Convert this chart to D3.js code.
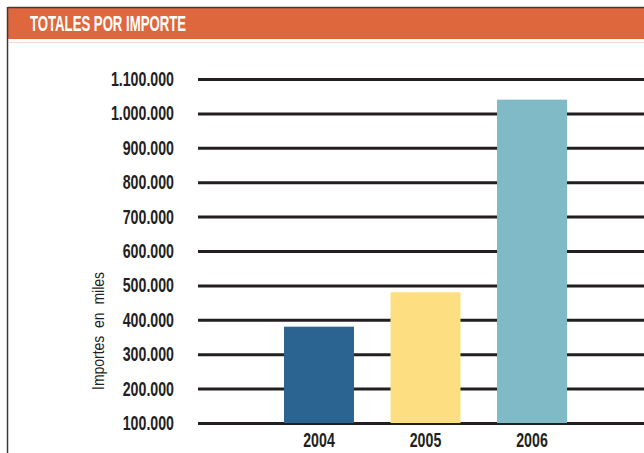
<!DOCTYPE html>
<html>
<head>
<meta charset="utf-8">
<script src="https://cdn.jsdelivr.net/npm/d3@7"></script>
<style>
  body { margin: 0; background: #fff; }
  text { font-family: "Liberation Sans", Arial, sans-serif; }
</style>
</head>
<body>
<div class="canvas"></div>
<script>
const dimensions = { width: 644, height: 453 };
const margin = { top: 79, left: 198, bottom: 30 };

// data
const years = ['2004', '2005', '2006'];
const importes = [380000, 480000, 1040000];
const barColors = ['#2b6490', '#fdde80', '#7fbac6'];
const yTicks = [100000, 200000, 300000, 400000, 500000, 600000, 700000, 800000, 900000, 1000000, 1100000];
const title = 'TOTALES POR IMPORTE';
const yTitle = 'Importes  en  miles';

const squeeze = 0.71; // fake a condensed face, no narrow font installed

const svg = d3.select('.canvas')
  .append('svg')
  .attr('width', dimensions.width)
  .attr('height', dimensions.height)

// header frame
svg.append('rect')
  .attr('x', 8).attr('y', 8)
  .attr('width', dimensions.width - 8).attr('height', 31)
  .attr('fill', '#df673d')

svg.append('line')
  .attr('x1', 8).attr('x2', dimensions.width)
  .attr('y1', 7.5).attr('y2', 7.5)
  .attr('stroke', '#3a3a3a').attr('stroke-width', 1.5)

svg.append('line')
  .attr('x1', 7.5).attr('x2', 7.5)
  .attr('y1', 7).attr('y2', dimensions.height)
  .attr('stroke', '#3a3a3a').attr('stroke-width', 1.5)

svg.append('line')
  .attr('x1', 9).attr('x2', dimensions.width)
  .attr('y1', 42.5).attr('y2', 42.5)
  .attr('stroke', '#f8d7cc').attr('stroke-width', 1.2)

svg.append('text')
  .attr('x', 30).attr('y', 31)
  .attr('fill', '#fff')
  .attr('font-size', 22)
  .attr('font-weight', 'bold')
  .attr('textLength', 156)
  .attr('lengthAdjust', 'spacingAndGlyphs')
  .text(title)

// scales
const y = d3.scaleLinear()
  .domain([100000, 1100000])
  .range([423, margin.top])

const x = d3.scaleBand()
  .domain(years)
  .range([230.75, 620.25])
  .paddingInner(0.343)
  .paddingOuter(0.5)

const fmt = d => d3.format(',')(d).replace(/,/g, '.')

// gridlines + tick labels through the axis generator
const pad = 24;
const yAxis = d3.axisLeft(y)
  .tickValues(yTicks)
  .tickSize(-(dimensions.width - margin.left))
  .tickPadding(pad)
  .tickFormat(fmt)

const gy = svg.append('g')
  .attr('transform', `translate(${margin.left}, 0)`)
  .call(yAxis)

gy.select('.domain').remove()
gy.selectAll('.tick line')
  .attr('x1', 0)
  .attr('x2', dimensions.width - margin.left)
  .attr('stroke', '#231f20')
  .attr('stroke-width', 3)
gy.selectAll('.tick text')
  .attr('fill', '#231f20')
  .attr('font-size', 20)
  .attr('font-weight', 'bold')
  .attr('font-family', '"Liberation Sans", Arial, sans-serif')
  .attr('transform', `translate(${-pad},0) scale(${squeeze},1) translate(${pad},0)`)

// bars
svg.append('g')
  .selectAll('rect')
  .data(years)
  .enter()
  .append('rect')
  .attr('x', d => x(d))
  .attr('width', x.bandwidth())
  .attr('y', (d, i) => y(importes[i]))
  .attr('height', (d, i) => y(100000) - y(importes[i]))
  .attr('fill', (d, i) => barColors[i])

// x labels
const xAxis = d3.axisBottom(x).tickSize(0).tickPadding(9.5)
const gx = svg.append('g')
  .attr('transform', `translate(0, 423)`)
  .call(xAxis)
gx.select('.domain').remove()
gx.selectAll('.tick text')
  .attr('fill', '#231f20')
  .attr('font-size', 20)
  .attr('font-weight', 'bold')
  .attr('font-family', '"Liberation Sans", Arial, sans-serif')
  .attr('transform', `scale(${squeeze},1)`)

// y title
svg.append('text')
  .attr('transform', 'translate(104, 331) rotate(-90)')
  .attr('text-anchor', 'middle')
  .attr('fill', '#231f20')
  .attr('font-size', 17)
  .attr('textLength', 118)
  .attr('lengthAdjust', 'spacingAndGlyphs')
  .style('white-space', 'pre')
  .text(yTitle)
</script>
</body>
</html>
